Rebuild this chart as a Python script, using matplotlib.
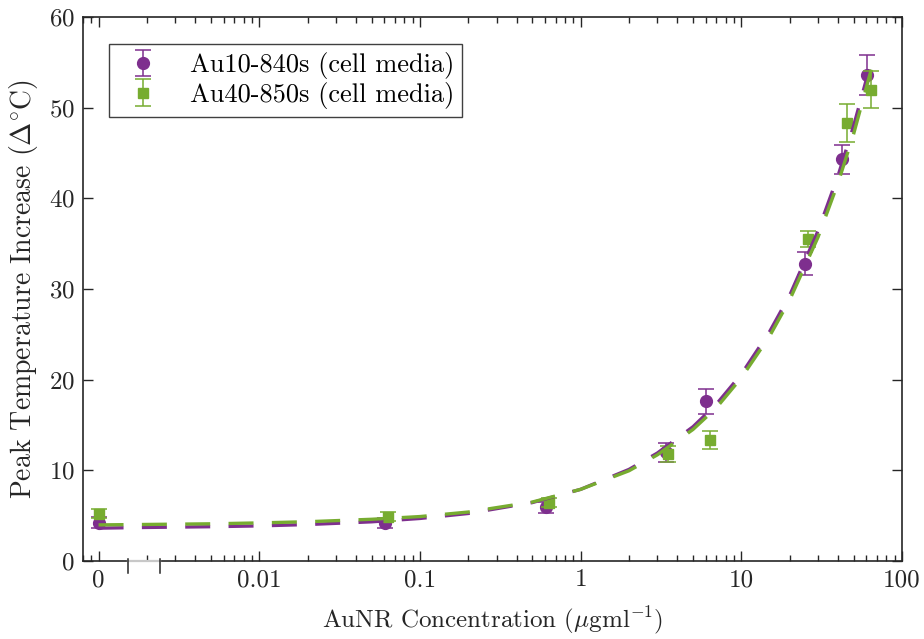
import matplotlib
matplotlib.use("Agg")
import matplotlib.pyplot as plt
import numpy as np
from matplotlib.ticker import FixedLocator, LogLocator, NullFormatter

plt.rcParams["font.family"] = ["cmr10", "DejaVu Serif"]
plt.rcParams["mathtext.fontset"] = "cm"
plt.rcParams["axes.formatter.use_mathtext"] = True

PURPLE = "#7E2F8E"
GREEN = "#77AC30"
ZERO_POS = 1e-3  # where the "0" concentration sits on the log axis

# measured points (concentration in ug/ml, 0 = no particles)
au10_conc = [0, 0.0605, 0.605, 3.38, 6.0, 24.8, 42.5, 60.2]
au10_temp = [4.2, 4.2, 5.9, 12.0, 17.6, 32.8, 44.3, 53.6]
au10_err = [0.6, 0.55, 0.6, 1.05, 1.4, 1.3, 1.6, 2.2]

au40_conc = [0, 0.063, 0.64, 3.51, 6.37, 26.1, 45.2, 64.3]
au40_temp = [5.2, 4.9, 6.4, 11.8, 13.3, 35.5, 48.3, 52.0]
au40_err = [0.5, 0.45, 0.5, 0.9, 1.0, 0.85, 2.1, 2.0]

# fitted curves
fit10_conc = [0, 0.002, 0.005, 0.01, 0.02, 0.05, 0.1, 0.2, 0.5, 1, 2, 3, 5, 7,
              10, 15, 20, 30, 40, 50, 60.2]
fit10_temp = [3.62, 3.7, 3.78, 3.87, 4.02, 4.32, 4.69, 5.24, 6.44, 7.9, 10.1,
              11.9, 14.8, 17.3, 20.6, 25.3, 29.3, 36.4, 42.5, 48.0, 53.2]
fit40_conc = [0, 0.002, 0.005, 0.01, 0.02, 0.05, 0.1, 0.2, 0.5, 1, 2, 3, 5, 7,
              10, 15, 20, 30, 40, 50, 64.3]
fit40_temp = [3.98, 4.03, 4.1, 4.2, 4.33, 4.6, 4.9, 5.4, 6.5, 7.9, 9.95, 11.7,
              14.5, 16.9, 20.2, 24.8, 28.8, 35.7, 41.7, 47.1, 54.2]

xtick_pos = [ZERO_POS, 0.01, 0.1, 1, 10, 100]
xtick_labels = ["0", "0.01", "0.1", "1", "10", "100"]
break_x = [0.00152, 0.0024]


def to_axis(c):
    c = np.asarray(c, dtype=float)
    return np.where(c == 0, ZERO_POS, c)


fig = plt.figure(figsize=(9.24, 6.39), dpi=100)
ax = fig.add_axes([0.0898, 0.1221, 0.8864, 0.8513])
ax.set_xscale("log")

ax.errorbar(to_axis(au10_conc), au10_temp, yerr=au10_err, fmt="o", color=PURPLE,
            ms=8.5, elinewidth=1.1, capsize=6, capthick=1.1,
            label="Au10-840s (cell media)", zorder=2)
ax.errorbar(to_axis(au40_conc), au40_temp, yerr=au40_err, fmt="s", color=GREEN,
            ms=6.5, elinewidth=1.1, capsize=6, capthick=1.1,
            label="Au40-850s (cell media)", zorder=3)
ax.plot(to_axis(fit10_conc), fit10_temp, color=PURPLE, lw=2.4,
        dashes=(7.5, 5.5), zorder=4)
ax.plot(to_axis(fit40_conc), fit40_temp, color=GREEN, lw=2.4,
        dashes=(7.5, 5.5), zorder=5)

ax.set_xlim(8e-4, 100)
ax.set_ylim(0, 60)
ax.xaxis.set_major_locator(FixedLocator(xtick_pos))
ax.set_xticklabels(xtick_labels)
ax.xaxis.set_minor_locator(LogLocator(base=10, subs=np.arange(2, 10), numticks=20))
ax.xaxis.set_minor_formatter(NullFormatter())
ax.set_yticks(np.arange(0, 61, 10))

ax.tick_params(which="both", direction="in", top=True, right=True,
               labelsize=18, colors="#262626", width=1)
ax.tick_params(which="major", length=7, pad=6)
ax.tick_params(which="minor", length=4)
for s in ax.spines.values():
    s.set_color("#262626")
    s.set_linewidth(1.2)

# axis break between 0 and the log decades
trans = ax.get_xaxis_transform()
ax.plot(break_x, [0, 0], color="#c8c8c8", lw=1.6, transform=trans,
        clip_on=False, zorder=6)
for bx in break_x:
    ax.plot([bx, bx], [0.004, -0.022], color="#262626", lw=1.1,
            transform=trans, clip_on=False, zorder=6)

ax.set_xlabel(r"AuNR Concentration ($\mu$gml$^{-1}$)", fontsize=18,
              color="#262626", labelpad=9)
ax.set_ylabel(r"Peak Temperature Increase ($\Delta^{\circ}$C)", fontsize=20,
              color="#262626", labelpad=6)

leg = ax.legend(loc="upper left", bbox_to_anchor=(0.032, 0.95), fontsize=19,
                frameon=True, fancybox=False, framealpha=1, edgecolor="#404040",
                borderpad=0.3, handletextpad=0.75, handlelength=2.0,
                labelspacing=0.1, borderaxespad=0)
leg.get_frame().set_linewidth(1.0)

fig.savefig("out.png", dpi=100)
